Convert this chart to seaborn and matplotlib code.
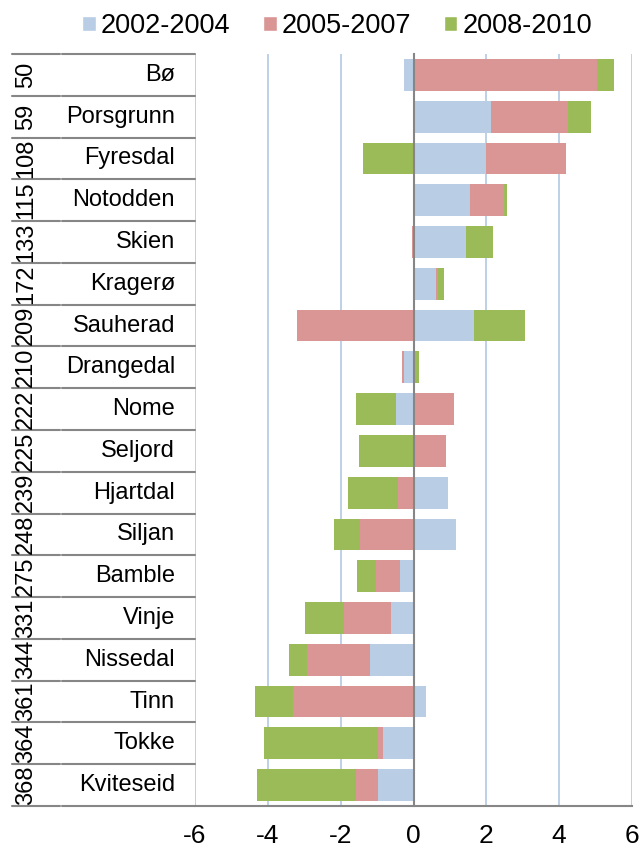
import numpy as np
import pandas as pd
import matplotlib
matplotlib.use("Agg")
import matplotlib.pyplot as plt
import matplotlib.transforms as mtransforms
from matplotlib.patches import Patch
import seaborn as sns

# data
names = ["Bø", "Porsgrunn", "Fyresdal", "Notodden", "Skien", "Kragerø", "Sauherad",
         "Drangedal", "Nome", "Seljord", "Hjartdal", "Siljan", "Bamble", "Vinje",
         "Nissedal", "Tinn", "Tokke", "Kviteseid"]
ranks = [50, 59, 108, 115, 133, 172, 209, 210, 222, 225, 239, 248, 275, 331, 344, 361, 364, 368]
series = ["2002-2004", "2005-2007", "2008-2010"]
v0204 = [-0.27, 2.12, 2.00, 1.55, 1.44, 0.62, 1.66, -0.27, -0.49, 0.03, 0.94, 1.16,
         -0.36, -0.61, -1.20, 0.35, -0.84, -0.97]
v0507 = [5.03, 2.12, 2.18, 0.93, -0.05, 0.06, -3.20, -0.05, 1.11, 0.87, -0.42, -1.46,
         -0.67, -1.29, -1.73, -3.30, -0.14, -0.60]
v0810 = [0.48, 0.63, -1.40, 0.09, 0.75, 0.15, 1.39, 0.14, -1.10, -1.50, -1.37, -0.71,
         -0.53, -1.08, -0.49, -1.05, -3.12, -2.74]
colors = ["#B9CDE5", "#D99694", "#9BBB59"]

sns.set_style("white")
plt.rcParams["font.family"] = ["Liberation Sans", "DejaVu Sans"]
plt.rcParams["text.color"] = "black"
plt.rcParams["xtick.color"] = "black"

df = pd.DataFrame({"name": names, "s0": v0204, "s1": v0507, "s2": v0810})
vals = df[["s0", "s1", "s2"]].to_numpy()
pos_cum = np.cumsum(np.clip(vals, 0, None), axis=1)
neg_cum = np.cumsum(np.clip(vals, None, 0), axis=1)

fig = plt.figure(figsize=(6.4, 8.48), dpi=100)
ax = fig.add_axes([195 / 640, 1 - 806 / 848, 437 / 640, 752 / 848])

# stacked bars: draw cumulative ends, outermost series first
for i in [2, 1, 0]:
    for cum in (pos_cum, neg_cum):
        sns.barplot(x=cum[:, i], y=df["name"], orient="h", color=colors[i],
                    width=0.76, linewidth=0, saturation=1, ax=ax, zorder=2)

ax.set_xlim(-6, 6)
ax.set_ylim(len(names) - 0.5, -0.5)
ax.set_xticks(np.arange(-6, 7, 2))
ax.set_xticklabels([str(t) for t in range(-6, 7, 2)], fontsize=19)
ax.set_xlabel("")
ax.set_ylabel("")
for t in [-6, -4, -2, 2, 4, 6]:
    ax.axvline(t, color="#B9CDE5", lw=1.3, zorder=0)

# category axis sits on zero
ax.set_yticks(np.arange(-0.5, len(names), 1))
ax.set_yticklabels([])
ax.spines["left"].set_position(("data", 0))
for s in ["top", "right"]:
    ax.spines[s].set_visible(False)
for s in ["left", "bottom"]:
    ax.spines[s].set_color("#868686")
    ax.spines[s].set_linewidth(1.5)
    ax.spines[s].set_zorder(3)
ax.tick_params(axis="y", length=6, width=1.5, color="#868686", direction="out")
ax.tick_params(axis="x", length=6, width=1.5, color="#868686", labelcolor="black",
               direction="out", pad=7)

# two-level labels on the left
trans = mtransforms.blended_transform_factory(ax.transAxes, ax.transData)
px = 1 / 437
for i, (n, r) in enumerate(zip(names, ranks)):
    ax.text(-20 * px, i, n, transform=trans, ha="right", va="center", fontsize=17)
    ax.text(-169 * px, i, str(r), transform=trans, ha="center", va="center",
            rotation=90, fontsize=17)
for b in np.arange(-0.5, len(names), 1):
    ax.plot([-183 * px, -135 * px], [b, b], transform=trans, color="#868686",
            lw=1.5, clip_on=False)
    ax.plot([-133 * px, 0], [b, b], transform=trans, color="#868686",
            lw=1.5, clip_on=False)

handles = [Patch(facecolor=c, label=s) for c, s in zip(colors, series)]
fig.legend(handles=handles, loc="center", bbox_to_anchor=(0.527, 0.969), ncol=3,
           frameon=False, fontsize=19.5, handlelength=0.5, handleheight=0.5,
           handletextpad=0.2, columnspacing=1.2)

fig.savefig("out.png", dpi=100)
